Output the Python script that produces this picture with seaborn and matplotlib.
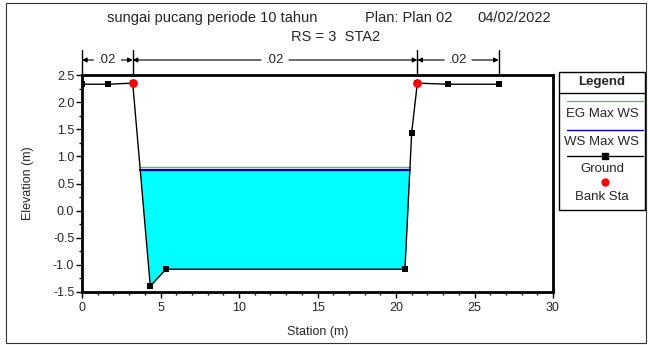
import numpy as np
import pandas as pd
import seaborn as sns
import matplotlib
matplotlib.use("Agg")
import matplotlib.pyplot as plt
from matplotlib.patches import Rectangle
from matplotlib.lines import Line2D

# ---- data ----
station = [0.0, 1.65, 3.23, 4.35, 5.35, 20.57, 21.0, 21.36, 23.29, 26.54]
elevation = [2.33, 2.33, 2.35, -1.39, -1.08, -1.08, 1.44, 2.35, 2.33, 2.33]
bank_sta = [3.23, 21.36]
bank_elev = [2.35, 2.35]
ws_max = 0.75
eg_max = 0.81
n_bounds = [0.0, 3.23, 21.36, 26.54]
n_values = [".02", ".02", ".02"]
title_parts = ["sungai pucang periode 10 tahun", "Plan: Plan 02", "04/02/2022"]
title2 = "RS = 3  STA2"

sns.set_theme(style="white")
plt.rcParams['font.family'] = ['Liberation Sans', 'DejaVu Sans']

W, H = 648, 345
fig = plt.figure(figsize=(W / 100, H / 100), dpi=100)
ax = fig.add_axes([82 / W, 1 - 292 / H, (553 - 82) / W, (292 - 75) / H])

df = pd.DataFrame({"Station": station, "Elevation": elevation})
sta = np.array(station)
elev = np.array(elevation)

# water fill between ground and WS in the channel
ax.fill_between(sta, elev, ws_max, where=elev <= ws_max, interpolate=True,
                color="#00FFFF", linewidth=0, zorder=1)

def wet_extent(level):
    xs = []
    for i in range(len(sta) - 1):
        y0, y1 = elev[i], elev[i + 1]
        if (y0 - level) * (y1 - level) < 0:
            xs.append(sta[i] + (level - y0) * (sta[i + 1] - sta[i]) / (y1 - y0))
    return min(xs), max(xs)

l, r = wet_extent(eg_max)
ax.plot([l, r], [eg_max, eg_max], color="#66BB66", lw=1.0, zorder=2)
l, r = wet_extent(ws_max)
ax.plot([l, r], [ws_max, ws_max], color="#0000CC", lw=1.6, zorder=3)

sns.lineplot(data=df, x="Station", y="Elevation", ax=ax, color="black", lw=1.0,
             marker="s", markersize=5, markeredgewidth=0, sort=False,
             estimator=None, zorder=4)
ax.scatter(bank_sta, bank_elev, color="red", s=40, zorder=5, linewidths=0)

ax.set_xlim(0, 30)
ax.set_ylim(-1.5, 2.5)
ax.set_xticks(np.arange(0, 31, 5))
ax.set_xticks(np.arange(0, 31, 1), minor=True)
ax.set_yticks(np.arange(-1.5, 2.51, 0.5))
ax.set_yticks(np.arange(-1.5, 2.51, 0.25), minor=True)
ax.set_yticklabels([f"{v:.1f}" for v in np.arange(-1.5, 2.51, 0.5)])
ax.tick_params(axis="both", which="major", direction="out", length=4, width=1,
               labelsize=9, color="black", pad=1.5, bottom=True, left=True)
ax.tick_params(axis="x", which="major", pad=3)
ax.tick_params(axis="both", which="minor", direction="out", length=2.5, width=1,
               color="black", bottom=True, left=True)
for s in ax.spines.values():
    s.set_linewidth(2.0)
    s.set_color("black")
ax.set_xlabel("Station (m)", fontsize=9, labelpad=9)
ax.set_ylabel("Elevation (m)", fontsize=9, labelpad=14)
ax.grid(False)

# titles
tx = [107, 365, 477]
for x, t in zip(tx, title_parts):
    fig.text(x / W, 1 - 18 / H, t, ha="left", va="center", fontsize=10.5)
fig.text(336 / W, 1 - 37 / H, title2, ha="center", va="center", fontsize=10.5)

# Manning's n bars
trans = ax.get_xaxis_transform()
y_top = 1 + (75 - 50) / 217
y_arr = 1 + (75 - 60) / 217
for xb in n_bounds:
    ax.plot([xb, xb], [1.0, y_top], transform=trans, color="black", lw=1,
            clip_on=False)
for i, lab in enumerate(n_values):
    x0, x1 = n_bounds[i], n_bounds[i + 1]
    xm = (x0 + x1) / 2
    for xe in (x0, x1):
        ax.annotate("", xy=(xe, y_arr), xytext=(xm, y_arr), xycoords=trans,
                    arrowprops=dict(arrowstyle="-|>", color="black", lw=0.8,
                                    mutation_scale=7, shrinkA=10, shrinkB=0))
    ax.text(xm, y_arr, lab, transform=trans, ha="center", va="center",
            fontsize=9.5, zorder=6,
            bbox=dict(facecolor="white", edgecolor="none", pad=1))

# Legend box (manual)
lx0, lx1, ly0, ly1 = 559, 645, 72, 210
def fx(px): return px / W
def fy(py): return 1 - py / H
fig.patches.append(Rectangle((fx(lx0), fy(ly1)), (lx1 - lx0) / W, (ly1 - ly0) / H,
                             transform=fig.transFigure, fill=False,
                             edgecolor="black", lw=1))
fig.text(fx(602), fy(82), "Legend", ha="center", va="center", fontsize=9.5,
         weight="bold")
fig.lines.append(Line2D([fx(lx0), fx(lx1)], [fy(93), fy(93)],
                        transform=fig.transFigure, color="black", lw=1))
fig.lines.append(Line2D([fx(567), fx(643)], [fy(101), fy(101)],
                        transform=fig.transFigure, color="#66BB66", lw=1))
fig.text(fx(602), fy(114), "EG Max WS", ha="center", va="center", fontsize=9.5)
fig.lines.append(Line2D([fx(567), fx(643)], [fy(130), fy(130)],
                        transform=fig.transFigure, color="#0000CC", lw=1))
fig.text(fx(602), fy(142), "WS Max WS", ha="center", va="center", fontsize=9.5)
fig.lines.append(Line2D([fx(567), fx(643)], [fy(156), fy(156)],
                        transform=fig.transFigure, color="black", lw=1))
fig.lines.append(Line2D([fx(605)], [fy(156)], transform=fig.transFigure,
                        color="black", marker="s", markersize=4.5, lw=0))
fig.text(fx(602), fy(169), "Ground", ha="center", va="center", fontsize=9.5)
fig.lines.append(Line2D([fx(605)], [fy(182)], transform=fig.transFigure,
                        color="red", marker="o", markersize=5, lw=0))
fig.text(fx(602), fy(197), "Bank Sta", ha="center", va="center", fontsize=9.5)

# outer frame
fig.patches.append(Rectangle((fx(6), fy(343)), (646 - 6) / W, (343 - 3) / H,
                             transform=fig.transFigure, fill=False,
                             edgecolor="#333333", lw=0.8))

fig.savefig("out.png", dpi=100)
